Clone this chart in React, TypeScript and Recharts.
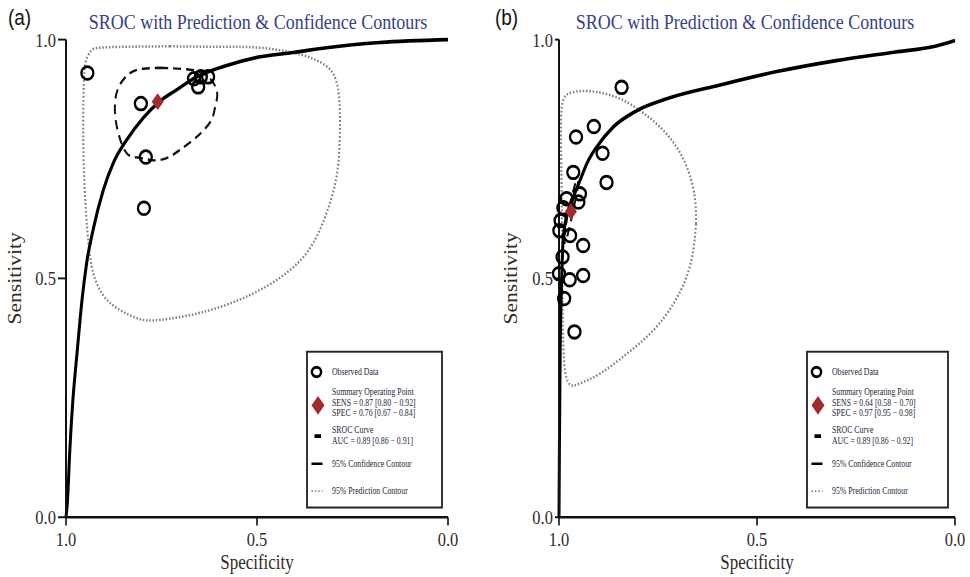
import React from 'react';
import { ComposedChart, Line, Scatter, XAxis, YAxis, Legend } from 'recharts';

// every point is [specificity, sensitivity]
type Pt = [number, number];

const TITLE = 'SROC with Prediction & Confidence Contours';
const AXIS_TICKS = [0, 0.5, 1];

// panel (a)
const A_OBSERVED: Pt[] = [
  [0.944, 0.93], [0.804, 0.866], [0.791, 0.754], [0.796, 0.647],
  [0.665, 0.918], [0.647, 0.922], [0.628, 0.922], [0.654, 0.901],
];
const A_SUMMARY: Pt[] = [[0.76, 0.87]];
const A_SROC: Pt[] = [
  [1.0, 0.0], [0.996, 0.036], [0.99, 0.14], [0.982, 0.245], [0.974, 0.319], [0.968, 0.371],
  [0.959, 0.448], [0.946, 0.532], [0.929, 0.602], [0.902, 0.686], [0.876, 0.742], [0.841, 0.79],
  [0.798, 0.836], [0.754, 0.871], [0.71, 0.895], [0.667, 0.918], [0.623, 0.934], [0.579, 0.946],
  [0.492, 0.964], [0.405, 0.973], [0.318, 0.983], [0.178, 0.994], [0.0, 1.0],
];
const A_CONFIDENCE: Pt[] = [
  [0.754, 0.941], [0.675, 0.937], [0.636, 0.927], [0.614, 0.909], [0.604, 0.885], [0.61, 0.857],
  [0.619, 0.832], [0.641, 0.809], [0.667, 0.79], [0.702, 0.769], [0.728, 0.755], [0.754, 0.748],
  [0.78, 0.748], [0.812, 0.753], [0.841, 0.762], [0.863, 0.804], [0.872, 0.853], [0.863, 0.899],
  [0.832, 0.93], [0.798, 0.939], [0.754, 0.941],
];
const A_PREDICTION: Pt[] = [
  [0.728, 0.986], [0.6, 0.985], [0.492, 0.983], [0.387, 0.969], [0.318, 0.944], [0.291, 0.909],
  [0.283, 0.846], [0.287, 0.742], [0.309, 0.658], [0.353, 0.574], [0.422, 0.512], [0.527, 0.462],
  [0.649, 0.428], [0.754, 0.413], [0.815, 0.417], [0.885, 0.449], [0.92, 0.491], [0.937, 0.546],
  [0.95, 0.671], [0.955, 0.811], [0.953, 0.916], [0.948, 0.955], [0.935, 0.976], [0.911, 0.983],
  [0.841, 0.985], [0.728, 0.986],
];
const A_LEGEND = ['SENS = 0.87 [0.80 − 0.92]', 'SPEC = 0.76 [0.67 − 0.84]', 'AUC = 0.89 [0.86 − 0.91]'];

// panel (b)
const B_OBSERVED: Pt[] = [
  [0.842, 0.9], [0.912, 0.818], [0.957, 0.796], [0.89, 0.762], [0.964, 0.722],
  [0.88, 0.701], [0.947, 0.677], [0.981, 0.667], [0.951, 0.66], [0.989, 0.648],
  [0.996, 0.621], [0.999, 0.6], [0.972, 0.59], [0.939, 0.569], [0.991, 0.545],
  [1.0, 0.51], [0.973, 0.497], [0.939, 0.506], [0.987, 0.458], [0.961, 0.388],
];
const B_SUMMARY: Pt[] = [[0.97, 0.64]];
const B_SROC: Pt[] = [
  [1.0, 0.0], [0.999, 0.14], [0.997, 0.349], [0.994, 0.475], [0.989, 0.586], [0.977, 0.642],
  [0.964, 0.67], [0.947, 0.705], [0.93, 0.74], [0.905, 0.775], [0.863, 0.817], [0.804, 0.851],
  [0.728, 0.876], [0.593, 0.905], [0.45, 0.933], [0.3, 0.956], [0.15, 0.974], [0.05, 0.986],
  [0.0, 0.998],
];
const B_CONFIDENCE: Pt[] = [
  [0.99, 0.585], [0.985, 0.61], [0.977, 0.64], [0.968, 0.67], [0.96, 0.695], [0.954, 0.706],
  [0.952, 0.7], [0.955, 0.68], [0.962, 0.65], [0.97, 0.62], [0.978, 0.592], [0.985, 0.575],
  [0.99, 0.585],
];
const B_PREDICTION: Pt[] = [
  [0.654, 0.614], [0.661, 0.559], [0.678, 0.503], [0.711, 0.447], [0.762, 0.391], [0.829, 0.342],
  [0.896, 0.301], [0.947, 0.28], [0.968, 0.276], [0.985, 0.308], [0.991, 0.447], [0.993, 0.656],
  [0.995, 0.796], [0.993, 0.858], [0.984, 0.882], [0.964, 0.89], [0.922, 0.892], [0.854, 0.879],
  [0.795, 0.851], [0.745, 0.817], [0.703, 0.775], [0.674, 0.726], [0.657, 0.67], [0.654, 0.614],
];
const B_LEGEND = ['SENS = 0.64 [0.58 − 0.70]', 'SPEC = 0.97 [0.95 − 0.98]', 'AUC = 0.89 [0.86 − 0.92]'];

const SERIF = '"Liberation Serif", "Times New Roman", serif';
const SANS = '"Liberation Sans", Arial, sans-serif';
const RED = '#a32a2f';
const DOT_GREY = '#857d7d';
const AXIS_TEXT = '#33291f';
// the source image is stretched vertically, so the whole figure is drawn short and scaled up
const STRETCH = 1.2;

const toRows = (pts: Pt[]) => pts.map(([spec, sens]) => ({ spec, sens }));

const Ring = (props: any) => (
  <ellipse cx={props.cx} cy={props.cy} rx={6} ry={5.3} fill="none" stroke="#000" strokeWidth={2.3} />
);

const Diamond = (props: any) => {
  const { cx, cy } = props;
  return <polygon points={`${cx},${cy - 7} ${cx + 6},${cy} ${cx},${cy + 7} ${cx - 6},${cy}`} fill={RED} />;
};

const SideTitle = ({ viewBox, cx }: any) => {
  const cy = viewBox.y + viewBox.height / 2;
  return (
    <text x={cx} y={cy} transform={`rotate(-90 ${cx} ${cy})`} textAnchor="middle" dominantBaseline="central"
      fontFamily={SERIF} fontSize={18} fill={AXIS_TEXT}>
      Sensitivity
    </text>
  );
};

const LegendBox = ({ width, lines }: { width: number; lines: string[] }) => {
  const t = { x: 26, fontFamily: SERIF, fontSize: 7.8, fill: '#23263a', dominantBaseline: 'central' as const };
  return (
    <svg width={width} height={132} style={{ display: 'block' }}>
      <rect x={1} y={1} width={width - 2} height={130} fill="#fff" stroke="#222" strokeWidth={1.8} />
      <ellipse cx={10.5} cy={18} rx={4.6} ry={4} fill="none" stroke="#000" strokeWidth={2.4} />
      <text {...t} y={18}>Observed Data</text>
      <polygon points="12,38 18.5,45.8 12,53.6 5.5,45.8" fill={RED} />
      <text {...t} y={34.6}>Summary Operating Point</text>
      <text {...t} y={43.3}>{lines[0]}</text>
      <text {...t} y={52}>{lines[1]}</text>
      <line x1={8.5} x2={15} y1={71.4} y2={71.4} stroke="#000" strokeWidth={3} />
      <text {...t} y={66.2}>SROC Curve</text>
      <text {...t} y={74.9}>{lines[2]}</text>
      <line x1={5.5} x2={16.5} y1={94.4} y2={94.4} stroke="#000" strokeWidth={2} />
      <text {...t} y={94.4}>95% Confidence Contour</text>
      <line x1={5.5} x2={16.5} y1={117.3} y2={117.3} stroke={DOT_GREY} strokeWidth={1.6} strokeDasharray="1.4 2" />
      <text {...t} y={117.3}>95% Prediction Contour</text>
    </svg>
  );
};

type PanelProps = {
  left: number;
  marginLeft: number;
  marginRight: number;
  yTick: number;
  titleX: number;
  legendLeft: number;
  legendWidth: number;
  observed: Pt[];
  summary: Pt[];
  sroc: Pt[];
  confidence: Pt[];
  prediction: Pt[];
  legend: string[];
};

const Panel = (p: PanelProps) => (
  <div style={{ position: 'absolute', left: p.left, top: 0 }}>
    <ComposedChart width={485} height={481} margin={{ top: 33, right: p.marginRight, bottom: 5, left: p.marginLeft }}>
      <XAxis
        type="number"
        dataKey="spec"
        domain={[0, 1]}
        reversed
        ticks={AXIS_TICKS}
        tickFormatter={(v: number) => v.toFixed(1)}
        height={45}
        tickSize={7}
        tickMargin={5}
        axisLine={{ stroke: '#111', strokeWidth: 2 }}
        tickLine={{ stroke: '#111', strokeWidth: 1.6 }}
        tick={{ fill: AXIS_TEXT, fontSize: 16.5, fontFamily: SERIF }}
        label={{ value: 'Specificity', position: 'insideBottom', offset: 2, fill: AXIS_TEXT, fontSize: 17, fontFamily: SERIF }}
      />
      <YAxis
        type="number"
        dataKey="sens"
        domain={[0, 1]}
        ticks={AXIS_TICKS}
        tickFormatter={(v: number) => v.toFixed(1)}
        width={60}
        tickSize={p.yTick}
        tickMargin={2}
        axisLine={{ stroke: '#111', strokeWidth: 2 }}
        tickLine={{ stroke: '#111', strokeWidth: 1.6 }}
        tick={{ fill: AXIS_TEXT, fontSize: 16.5, fontFamily: SERIF }}
        label={(lp: any) => <SideTitle {...lp} cx={p.titleX} />}
      />
      <Line data={toRows(p.prediction)} dataKey="sens" type="natural" stroke={DOT_GREY} strokeWidth={2.1}
        strokeDasharray="1.5 1.8" dot={false} activeDot={false} isAnimationActive={false} />
      <Line data={toRows(p.confidence)} dataKey="sens" type="natural" stroke="#111" strokeWidth={2}
        strokeDasharray="8 5" dot={false} activeDot={false} isAnimationActive={false} />
      <Line data={toRows(p.sroc)} dataKey="sens" type="monotone" stroke="#000" strokeWidth={3}
        dot={false} activeDot={false} isAnimationActive={false} />
      <Scatter data={toRows(p.observed)} dataKey="sens" shape={Ring} isAnimationActive={false} />
      <Scatter data={toRows(p.summary)} dataKey="sens" shape={Diamond} isAnimationActive={false} />
      <Legend
        layout="horizontal"
        verticalAlign="middle"
        align="center"
        wrapperStyle={{ left: p.legendLeft, top: 291.7, width: p.legendWidth, height: 132 }}
        content={() => <LegendBox width={p.legendWidth} lines={p.legend} />}
      />
    </ComposedChart>
  </div>
);

export default function App() {
  return (
    <div
      style={{
        position: 'absolute',
        left: 0,
        top: 0,
        width: 970,
        height: 481,
        background: '#fff',
        transform: `scaleY(${STRETCH})`,
        transformOrigin: '0 0',
        fontFamily: SERIF,
      }}
    >
      <Panel left={0} marginLeft={6} marginRight={37} yTick={8} titleX={15} legendLeft={306} legendWidth={137}
        observed={A_OBSERVED} summary={A_SUMMARY} sroc={A_SROC} confidence={A_CONFIDENCE}
        prediction={A_PREDICTION} legend={A_LEGEND} />
      <Panel left={485} marginLeft={14} marginRight={15} yTick={4} titleX={26} legendLeft={321} legendWidth={143}
        observed={B_OBSERVED} summary={B_SUMMARY} sroc={B_SROC} confidence={B_CONFIDENCE}
        prediction={B_PREDICTION} legend={B_LEGEND} />
      <svg width={970} height={481} style={{ position: 'absolute', left: 0, top: 0, pointerEvents: 'none' }}>
        <text x={8} y={20.5} fontFamily={SANS} fontSize={19} fill="#111">(a)</text>
        <text x={495} y={20.5} fontFamily={SANS} fontSize={19} fill="#111">(b)</text>
        <text x={258} y={24} textAnchor="middle" fontFamily={SERIF} fontSize={18} fill="#34428c">{TITLE}</text>
        <text x={745} y={24} textAnchor="middle" fontFamily={SERIF} fontSize={18} fill="#34428c">{TITLE}</text>
      </svg>
    </div>
  );
}
